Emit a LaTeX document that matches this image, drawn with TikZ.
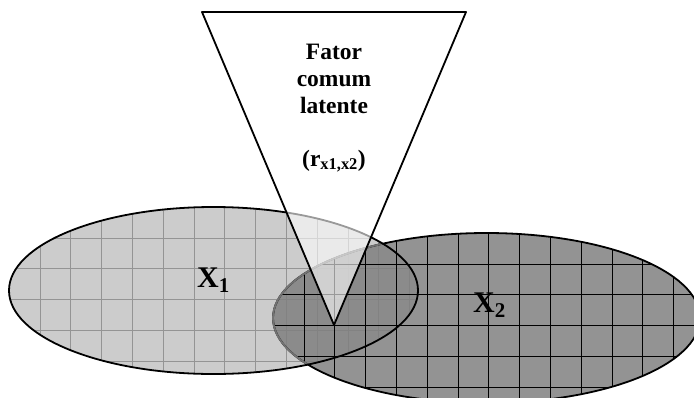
\documentclass[tikz,border=0pt]{standalone}
\usepackage{fontspec}
\setmainfont{Liberation Serif}
\usetikzlibrary{calc}

\definecolor{lightfill}{gray}{0.80}
\definecolor{darkfill}{gray}{0.50}

\begin{document}
\begin{tikzpicture}[x=1pt, y=-1pt, line join=round,
    gridA/.style={line width=0.6pt, black!42},
    gridB/.style={line width=0.6pt, black},
    rim/.style={line width=1.8pt, black},
    lbl/.style={font=\bfseries\fontsize{23.5}{27}\selectfont, align=center, inner sep=0pt},
    xlbl/.style={font=\bfseries\fontsize{30}{32}\selectfont, inner sep=0pt}]
  % 网格间距与两个椭圆的中心、半径
  \def\gridstep{30.8}
  \def\rxA{204.5}
  \def\ryA{83.5}
  \def\rxB{213.5}
  \def\ryB{85}
  \coordinate (E1) at (213.5, 290.5);
  \coordinate (E2) at (486.5, 318);

  % 倒三角形的三个顶点
  \coordinate (T1) at (202, 12);
  \coordinate (T2) at (466, 12);
  \coordinate (T3) at (334, 325);

  \useasboundingbox (0,0) rectangle (694,397);
  \clip (0,0) rectangle (694,397);

  % 1. 椭圆 X1（浅灰，带网格）
  \begin{scope}
    \clip (E1) ellipse [x radius=\rxA pt, y radius=\ryA pt];
    \fill[lightfill] (E1) ellipse [x radius=\rxA pt, y radius=\ryA pt];
    \foreach \k in {1,...,13} {
      \draw[gridA] ($(E1)+(-\rxA+\k*\gridstep, -\ryA)$) -- ++(0, 2*\ryA);
    }
    \foreach \k in {1,...,5} {
      \draw[gridA] ($(E1)+(-\rxA, -\ryA+\k*\gridstep)$) -- ++(2*\rxA, 0);
    }
  \end{scope}

  % 2. 椭圆 X2（深灰，带网格）
  \begin{scope}
    \clip (E2) ellipse [x radius=\rxB pt, y radius=\ryB pt];
    \fill[darkfill, fill opacity=0.85] (E2) ellipse [x radius=\rxB pt, y radius=\ryB pt];
    \foreach \k in {1,...,13} {
      \draw[gridB] ($(E2)+(-\rxB+\k*\gridstep, -\ryB)$) -- ++(0, 2*\ryB);
    }
    \foreach \k in {1,...,5} {
      \draw[gridB] ($(E2)+(-\rxB, -\ryB+\k*\gridstep)$) -- ++(2*\rxB, 0);
    }
  \end{scope}
  \draw[rim] (E2) ellipse [x radius=\rxB pt, y radius=\ryB pt];

  % X2 的边在 X1 之内显得较浅
  \begin{scope}
    \clip (E1) ellipse [x radius=\rxA pt, y radius=\ryA pt];
    \draw[rim, gray!90!black] (E2) ellipse [x radius=\rxB pt, y radius=\ryB pt];
  \end{scope}
  \draw[rim] (E1) ellipse [x radius=\rxA pt, y radius=\ryA pt];

  % 3. 倒三角形（半透明白色）
  \filldraw[rim, fill=white, fill opacity=0.6] (T1) -- (T2) -- (T3) -- cycle;

  % 4. 文字
  \node[lbl, anchor=north] (fator) at (334, 44) {Fator\\comum\\latente};
  \node[lbl, anchor=base] (corr) at (334, 166) {(r\textsubscript{x1,x2})};
  \node[xlbl, anchor=base west] (x1) at (197, 287) {X\textsubscript{1}};
  \node[xlbl, anchor=base west] (x2) at (473, 312) {X\textsubscript{2}};
\end{tikzpicture}
\end{document}
